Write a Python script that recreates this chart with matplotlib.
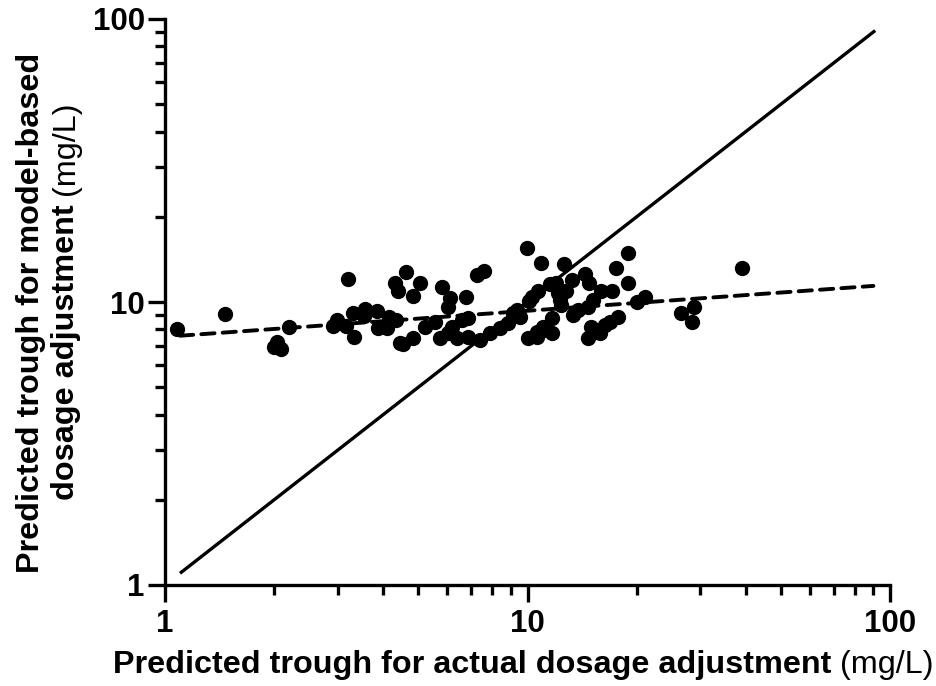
import numpy as np
import matplotlib
matplotlib.use('Agg')
import matplotlib.pyplot as plt
from matplotlib.ticker import LogLocator, NullFormatter, FixedLocator, FixedFormatter

# predicted trough, actual adjustment (x) vs model-based adjustment (y), mg/L
actual = [1.08, 1.46, 2.00, 2.09, 2.04, 2.20, 2.90, 2.98, 3.16, 3.20,
          3.30, 3.32, 3.55, 3.56, 3.84, 3.88, 4.10, 4.16, 4.31, 4.40,
          4.34, 4.45, 4.54, 4.62, 4.82, 4.83, 5.05, 5.20, 5.55, 5.74,
          5.80, 6.05, 6.11, 6.05, 6.20, 6.37, 6.60, 6.77, 6.86, 6.86,
          7.27, 7.59, 7.40, 7.88, 8.40, 8.85, 9.10, 9.34, 9.53, 9.95,
          10.1, 10.3, 10.7, 10.9, 11.5, 12.0, 12.1, 12.3, 12.4, 12.6,
          12.8, 10.0, 10.6, 10.6, 11.06, 11.06, 11.66, 11.66, 13.3, 14.4,
          14.8, 13.35, 13.8, 14.7, 15.2, 16.0, 17.1, 15.0, 14.7, 15.5,
          15.8, 16.4, 16.9, 17.8, 17.6, 18.9, 18.9, 20.0, 21.1, 26.5,
          28.8, 28.5, 39.0]
model = [8.05, 9.07, 6.95, 6.80, 7.24, 8.14, 8.25, 8.63, 8.25, 12.1,
         9.12, 7.54, 8.92, 9.42, 9.31, 8.07, 8.07, 8.83, 11.7, 10.9,
         8.63, 7.14, 7.10, 12.8, 10.5, 7.44, 11.7, 8.18, 8.52, 7.44,
         11.3, 9.62, 10.3, 7.75, 8.18, 7.44, 8.63, 10.4, 8.76, 7.54,
         12.5, 12.9, 7.34, 7.75, 8.07, 8.40, 9.12, 9.37, 8.83, 15.5,
         10.1, 10.4, 10.9, 13.7, 11.6, 11.7, 10.8, 10.2, 9.75, 13.6,
         10.9, 7.44, 7.85, 7.54, 8.18, 7.96, 8.76, 7.75, 12.0, 12.6,
         11.7, 9.0, 9.37, 9.62, 10.2, 10.9, 10.9, 8.18, 7.44, 7.96,
         7.75, 8.3, 8.52, 8.85, 13.15, 14.9, 11.7, 10.0, 10.4, 9.17,
         9.58, 8.52, 13.2]

identity_x = [1.1, 91]
identity_y = [1.1, 91]
fit_x = [1.1, 90]
fit_y = [7.6, 11.4]

ticks = [1, 10, 100]
tick_labels = ['1', '10', '100']

plt.rcParams['font.family'] = ['Liberation Sans', 'DejaVu Sans']
FS = 23.3
TICK_FS = 22.5

fig = plt.figure(figsize=(9.37, 6.86), dpi=100)
ax = fig.add_axes([165 / 937, 101 / 686, 725 / 937, 566 / 686])

ax.plot(identity_x, identity_y, color='black', lw=2.4, solid_capstyle='butt')
ax.plot(fit_x, fit_y, color='black', lw=2.8, dashes=(3.4, 2.1),
        dash_capstyle='round')
ax.plot(actual, model, 'o', color='black', markersize=10, ls='none')

ax.set_xscale('log')
ax.set_yscale('log')
ax.set_xlim(1, 100)
ax.set_ylim(1, 100)

for axis in (ax.xaxis, ax.yaxis):
    axis.set_major_locator(FixedLocator(ticks))
    axis.set_major_formatter(FixedFormatter(tick_labels))
    axis.set_minor_locator(LogLocator(base=10, subs=np.arange(2, 10)))
    axis.set_minor_formatter(NullFormatter())

for side in ('top', 'right'):
    ax.spines[side].set_visible(False)
for side in ('left', 'bottom'):
    ax.spines[side].set_linewidth(2.4)

ax.tick_params(which='major', length=12.5, width=2.4, labelsize=TICK_FS)
ax.tick_params(which='minor', length=7, width=2.4)
ax.tick_params(axis='x', which='major', pad=5)
ax.tick_params(axis='y', which='major', pad=2)
for lab in ax.get_xticklabels() + ax.get_yticklabels():
    lab.set_fontweight('bold')

renderer = fig.canvas.get_renderer()
W, H = fig.get_size_inches() * fig.dpi


def mixed_label(cx, cy, parts, rotation=0):
    # parts: list of (text, weight); drawn one after another, centred on (cx, cy) px
    widths = []
    for s, w in parts:
        t = fig.text(0, 0, s, size=FS, weight=w)
        widths.append(t.get_window_extent(renderer).width)
        t.remove()
    gap = 0.28 * FS * fig.dpi / 72
    total = sum(widths) + gap * (len(parts) - 1)
    pos = -total / 2
    for (s, w), wd in zip(parts, widths):
        if rotation == 0:
            x, y = cx + pos, cy
        else:
            x, y = cx, cy + pos
        fig.text(x / W, y / H, s, size=FS, weight=w, rotation=rotation,
                 rotation_mode='anchor', ha='left', va='baseline')
        pos += wd + gap


mixed_label(523, 686 - 673, [('Predicted trough for actual dosage adjustment', 'bold'),
                             ('(mg/L)', 'normal')])
mixed_label(39, 686 - 313, [('Predicted trough for model-based', 'bold')], rotation=90)
mixed_label(74, 686 - 301, [('dosage adjustment', 'bold'), ('(mg/L)', 'normal')],
            rotation=90)

fig.savefig('out.png', dpi=100)
